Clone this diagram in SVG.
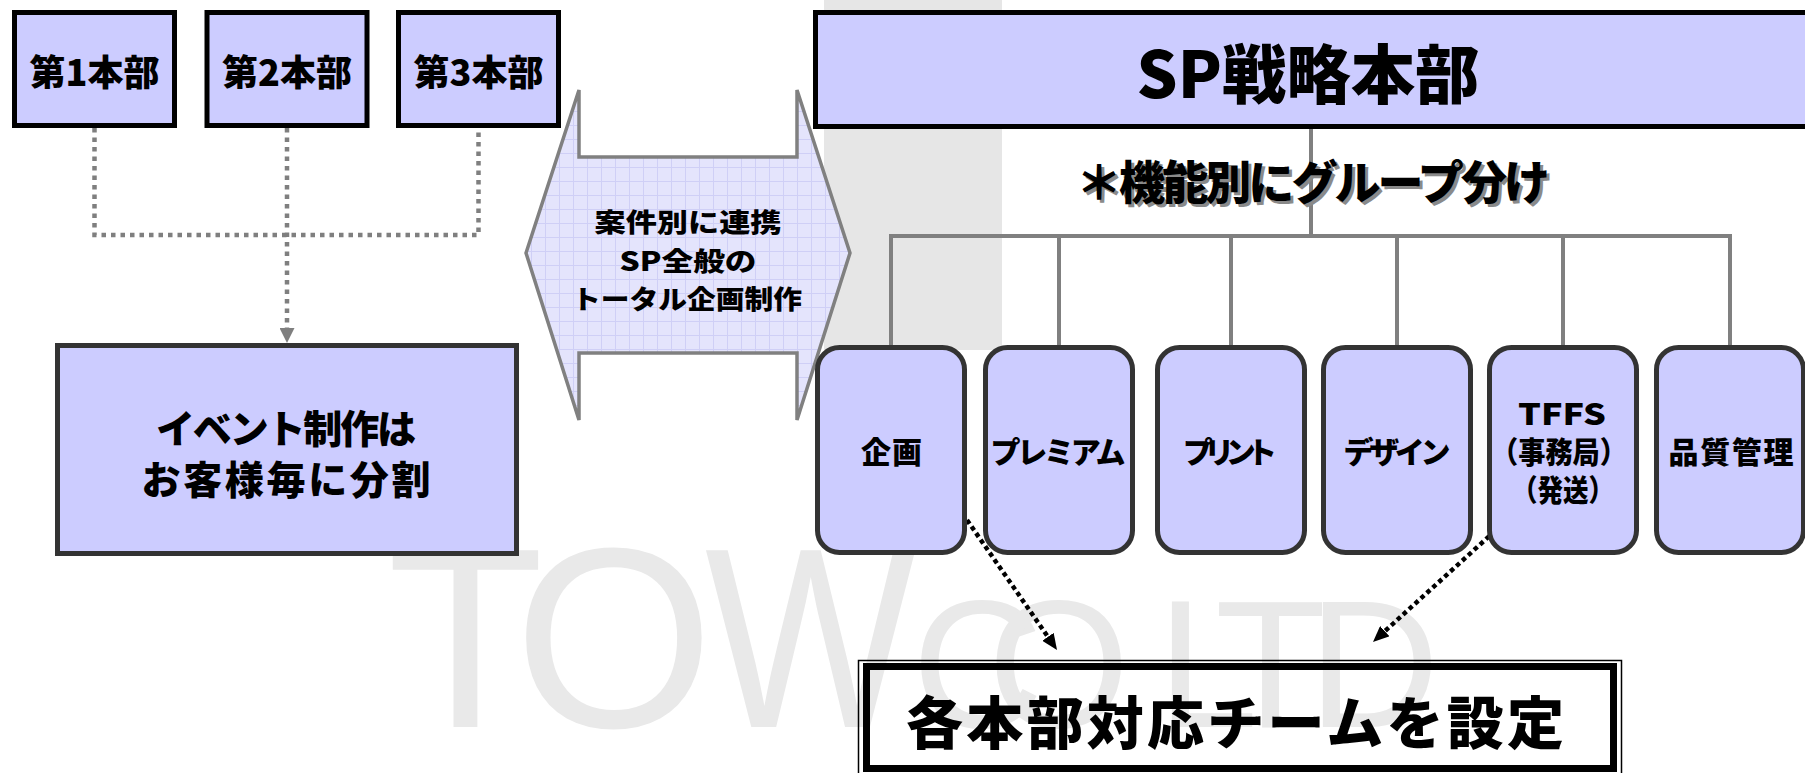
<svg xmlns="http://www.w3.org/2000/svg" width="1805" height="773" viewBox="0 0 1805 773">
<style>
.jp{font-family:"Noto Sans CJK JP","Noto Sans CJK SC",sans-serif;font-weight:900;fill:#000;text-anchor:middle}
.box{fill:#ccccff;stroke:#000;stroke-width:5}
.box2{fill:#ccccff;stroke:#333;stroke-width:5}
.wm{font-family:"Liberation Sans",Arial,sans-serif;fill:#e9e9e9}
.org{stroke:#808080;stroke-width:4;fill:none}
.dotg{stroke:#7f7f7f;stroke-width:4.5;stroke-dasharray:4.5 5;fill:none}
.dotk{stroke:#000;stroke-width:4.5;stroke-dasharray:4.5 3.5;fill:none}
</style>
<defs>
<pattern id="grid" width="14" height="14" patternUnits="userSpaceOnUse">
<rect width="14" height="14" fill="#e4e4fc"/>
<path d="M13.5 0V14M0 13.5H14" stroke="#cfcff6" stroke-width="1" fill="none"/>
</pattern>
<marker id="ag" viewBox="0 0 15 15" refX="0" refY="7.5" markerWidth="15" markerHeight="15" markerUnits="userSpaceOnUse" orient="auto">
<path d="M0 0L15 7.5L0 15Z" fill="#7f7f7f"/>
</marker>
<marker id="ak" viewBox="0 0 16 14" refX="0" refY="7" markerWidth="16" markerHeight="14" markerUnits="userSpaceOnUse" orient="auto">
<path d="M0 0L16 7L0 14Z" fill="#000"/>
</marker>
</defs>
<rect width="1805" height="773" fill="#fff"/>
<g id="watermark">
<rect x="824" y="0" width="178" height="350" fill="#e6e6e6"/>
<text class="wm" y="727" font-size="257"><tspan x="387">T</tspan><tspan x="514">O</tspan><tspan x="705" textLength="211" lengthAdjust="spacingAndGlyphs">W</tspan></text>
<text class="wm" y="727" font-size="182"><tspan x="912">C</tspan><tspan x="988">O</tspan><tspan x="1157">L</tspan><tspan x="1215">T</tspan><tspan x="1308">D</tspan></text>
</g>
<g id="connectors">
<path class="dotg" d="M94.5 128V235H478.5V128M287 128V328" marker-end="url(#ag)"/>
<path class="org" d="M1311 128V236M889 236H1732M891 236V347M1059 236V347M1231 236V347M1397 236V347M1563 236V347M1730 236V347"/>
<path class="dotk" d="M967 520L1047.9 636.8" marker-end="url(#ak)"/>
<path class="dotk" d="M1507 520L1384.8 631.2" marker-end="url(#ak)"/>
</g>
<g id="hq1"><rect class="box" x="14.5" y="12.5" width="160" height="113"/><text class="jp" x="94.5" y="85.5" font-size="36">第1本部</text></g>
<g id="hq2"><rect class="box" x="207" y="12.5" width="160" height="113"/><text class="jp" x="287" y="85.5" font-size="36">第2本部</text></g>
<g id="hq3"><rect class="box" x="398.5" y="12.5" width="160" height="113"/><text class="jp" x="478.5" y="85.5" font-size="36">第3本部</text></g>
<g id="event"><rect class="box2" x="57.5" y="345.5" width="459" height="208"/>
<text class="jp" x="286" y="443" font-size="39" textLength="260">イベント制作は</text>
<text class="jp" x="286" y="494" font-size="39" textLength="289">お客様毎に分割</text></g>
<g id="link">
<path d="M526 253L579 90V157H797V90L850 253L797 420V353H579V420Z" fill="url(#grid)" stroke="#808080" stroke-width="3.5" stroke-linejoin="miter"/>
<text class="jp" x="688" y="232" font-size="26" textLength="187" lengthAdjust="spacingAndGlyphs">案件別に連携</text>
<text class="jp" x="688" y="271" font-size="26" textLength="137" lengthAdjust="spacingAndGlyphs">SP全般の</text>
<text class="jp" x="687" y="308.5" font-size="26" textLength="230" lengthAdjust="spacingAndGlyphs">トータル企画制作</text>
</g>
<g id="sp"><rect class="box" x="815.5" y="12.5" width="1000" height="114"/>
<text class="jp" x="1308" y="97.5" font-size="64" textLength="343" lengthAdjust="spacingAndGlyphs">SP戦略本部</text></g>
<g id="note">
<text class="jp" x="1316" y="201.5" font-size="46" textLength="474" style="fill:#8a8a8a">＊機能別にグループ分け</text>
<text class="jp" x="1313" y="198.5" font-size="46" textLength="474">＊機能別にグループ分け</text>
</g>
<g id="g1"><rect class="box2" x="817.5" y="347.5" width="147" height="205" rx="22"/><text class="jp" x="891.5" y="463" font-size="30" textLength="61">企画</text></g>
<g id="g2"><rect class="box2" x="985.5" y="347.5" width="147" height="205" rx="22"/><text class="jp" x="1058" y="463" font-size="30" textLength="135">プレミアム</text></g>
<g id="g3"><rect class="box2" x="1157.5" y="347.5" width="147" height="205" rx="22"/><text class="jp" x="1230" y="463" font-size="30" textLength="94">プリント</text></g>
<g id="g4"><rect class="box2" x="1323.5" y="347.5" width="147" height="205" rx="22"/><text class="jp" x="1397" y="463" font-size="30" textLength="107">デザイン</text></g>
<g id="g5"><rect class="box2" x="1489.5" y="347.5" width="147" height="205" rx="22"/>
<text class="jp" x="1562" y="425" font-size="30" textLength="88" lengthAdjust="spacingAndGlyphs">TFFS</text>
<text class="jp" x="1559" y="463" font-size="30" textLength="136" lengthAdjust="spacingAndGlyphs">（事務局）</text>
<text class="jp" x="1563" y="501" font-size="30" textLength="102" lengthAdjust="spacingAndGlyphs">（発送）</text></g>
<g id="g6"><rect class="box2" x="1656.5" y="347.5" width="147" height="205" rx="22"/><text class="jp" x="1731" y="463" font-size="30" textLength="125">品質管理</text></g>
<g id="team">
<rect x="858.5" y="660.5" width="763" height="130" fill="none" stroke="#000" stroke-width="1.5"/>
<rect x="866.5" y="666.5" width="747" height="102" fill="none" stroke="#000" stroke-width="7"/>
<text class="jp" x="1235" y="744" font-size="57" textLength="658">各本部対応チームを設定</text>
</g>
</svg>
